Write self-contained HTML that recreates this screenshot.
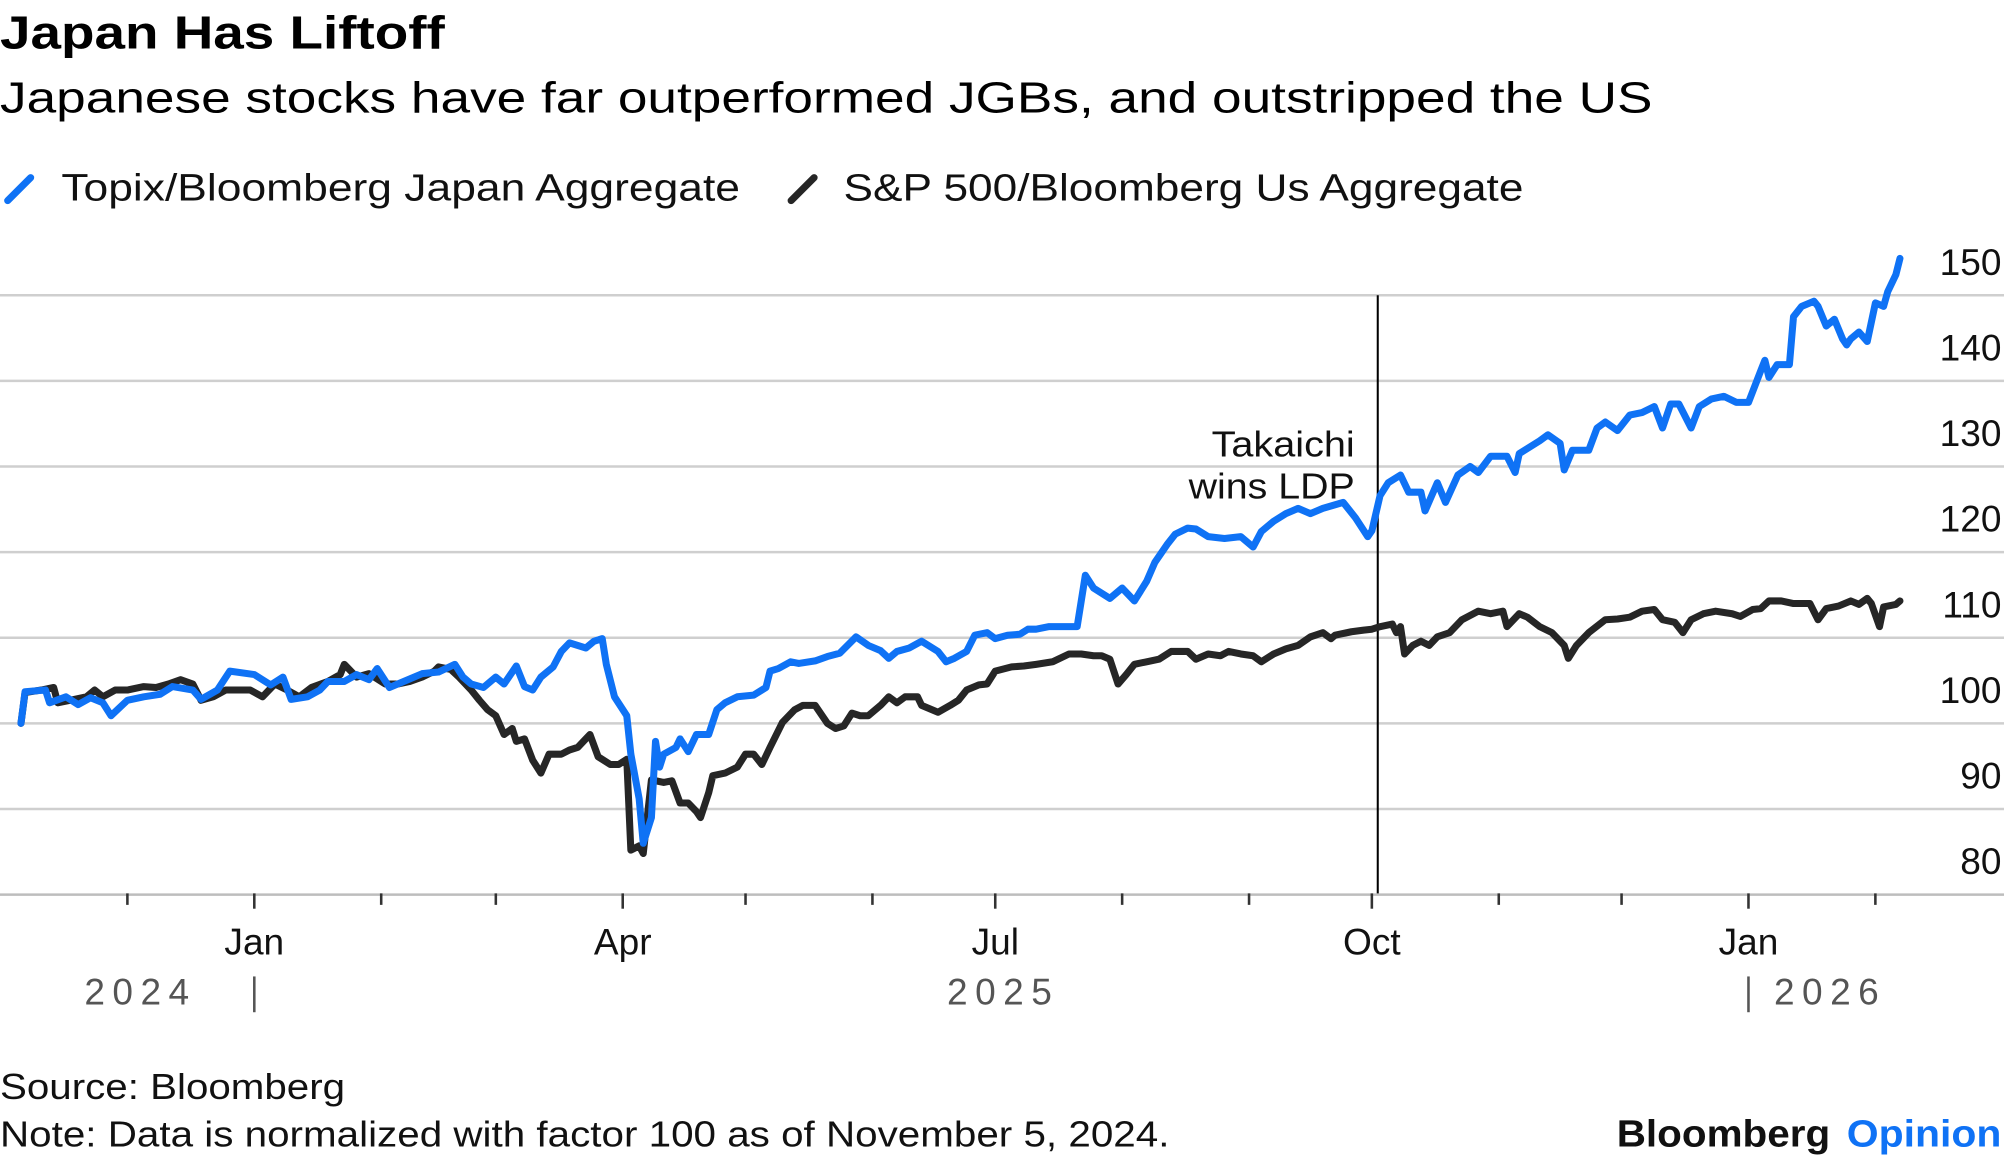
<!DOCTYPE html>
<html><head><meta charset="utf-8"><style>
html,body{margin:0;padding:0;background:#fff;}
svg{display:block;font-family:"Liberation Sans",Arial,sans-serif;}
</style></head><body>
<svg id="chart" width="2004" height="1161" viewBox="0 0 1568 908.4" xmlns="http://www.w3.org/2000/svg">
<text x="0" y="38" font-size="36" font-weight="bold" fill="#000" textLength="348" lengthAdjust="spacingAndGlyphs">Japan Has Liftoff</text>
<text x="0" y="88" font-size="34" fill="#000" textLength="1293" lengthAdjust="spacingAndGlyphs">Japanese stocks have far outperformed JGBs, and outstripped the US</text>
<g>
<line x1="6" y1="157" x2="24" y2="139" stroke="#0f72f5" stroke-width="5.5" stroke-linecap="round"/>
<text x="48" y="157" font-size="30" fill="#111" textLength="531" lengthAdjust="spacingAndGlyphs">Topix/Bloomberg Japan Aggregate</text>
<line x1="619" y1="157" x2="637" y2="139" stroke="#262626" stroke-width="5.5" stroke-linecap="round"/>
<text x="660" y="157" font-size="30" fill="#111" textLength="532" lengthAdjust="spacingAndGlyphs">S&amp;P 500/Bloomberg Us Aggregate</text>
</g>
<g id="grid"></g>
<g id="xaxis"></g>
<line x1="1078" y1="231" x2="1078" y2="699" stroke="#000" stroke-width="1.6"/>
<text x="1060" y="357" font-size="28" text-anchor="end" fill="#111" textLength="112" lengthAdjust="spacingAndGlyphs">Takaichi</text>
<text x="1060" y="390" font-size="28" text-anchor="end" fill="#111" textLength="130" lengthAdjust="spacingAndGlyphs">wins LDP</text>
<g id="series"></g>
<text x="0" y="860" font-size="28" fill="#111" textLength="270" lengthAdjust="spacingAndGlyphs">Source: Bloomberg</text>
<text x="0" y="897" font-size="28" fill="#111" textLength="915" lengthAdjust="spacingAndGlyphs">Note: Data is normalized with factor 100 as of November 5, 2024.</text>
<text x="1265" y="897" font-size="30" font-weight="bold" fill="#111" textLength="167" lengthAdjust="spacingAndGlyphs">Bloomberg</text>
<text x="1445" y="897" font-size="30" font-weight="bold" fill="#0f72f5" textLength="121" lengthAdjust="spacingAndGlyphs">Opinion</text>
</svg>
<script>
// y ticks
const yTicks = [80, 90, 100, 110, 120, 130, 140, 150];
// x month ticks: days since 2024-11-05
const monthTickDays = [26, 57, 88, 116, 147, 177, 208, 238, 269, 300, 330, 361, 391, 422, 453];
const monthTickLabels = ["", "Jan", "", "", "Apr", "", "", "Jul", "", "", "Oct", "", "", "Jan", ""];
const yearLabels = ["2024", "2025", "2026"];

const topixDays = [0,1,6,7,11,14,17,20,22,26,30,34,37,42,44,48,51,57,61,64,66,70,73,75,79,82,85,87,90,95,98,102,106,108,110,113,116,118,121,123,125,127,130,132,134,138,140,142,143,145,148,149,151,152,154,155,156,157,160,161,163,165,168,170,172,175,179,182,183,185,188,190,194,197,200,204,207,210,212,214,217,220,224,226,228,231,233,236,238,241,244,246,248,251,253,258,260,262,266,269,272,275,277,280,282,285,287,290,294,298,301,303,306,309,312,315,318,323,326,329,330,332,334,337,339,342,343,346,348,351,354,356,359,363,365,366,371,373,376,377,379,383,385,387,390,393,396,399,401,403,405,408,410,413,416,419,422,425,426,427,429,432,433,435,438,439,441,443,445,446,447,449,451,453,455,456,458,459];
const topixValues = [100,103.7,103.9,102.4,103.1,102.2,103.0,102.4,100.9,102.7,103.1,103.4,104.3,103.9,102.8,103.9,106.1,105.7,104.5,105.4,102.8,103.1,103.9,104.9,104.9,105.7,105.1,106.4,104.2,105.2,105.8,106.0,106.9,105.4,104.6,104.2,105.4,104.6,106.7,104.3,103.9,105.4,106.6,108.4,109.4,108.8,109.6,109.9,106.9,103.1,100.9,96.4,91.2,86.0,89.0,97.9,94.9,96.4,97.2,98.2,96.7,98.7,98.7,101.6,102.4,103.1,103.3,104.2,106.1,106.4,107.2,107.0,107.3,107.8,108.2,110.1,109.1,108.5,107.6,108.4,108.8,109.6,108.4,107.2,107.6,108.4,110.3,110.6,109.9,110.3,110.4,111.0,111.0,111.3,111.3,111.3,117.3,115.8,114.6,115.8,114.3,116.6,118.8,120.9,122.1,122.8,122.7,121.8,121.6,121.8,120.6,122.4,123.6,124.5,125.1,124.5,125.1,125.8,124.0,121.8,122.5,126.6,128.1,129.0,127.0,127.0,124.8,128.1,125.8,129.0,130.0,129.3,131.2,131.2,129.3,131.5,133.0,133.7,132.7,129.6,131.9,131.9,134.5,135.2,134.2,136.0,136.3,137.0,134.5,137.3,137.3,134.5,137.0,137.9,138.2,137.5,137.5,141.2,142.4,140.4,141.9,141.9,147.5,148.7,149.3,148.7,146.4,147.2,144.9,144.2,144.9,145.7,144.6,149.1,148.7,150.4,152.4,154.3];

const spxDays = [0,1,5,8,9,12,16,18,20,23,26,30,33,36,39,42,44,47,50,53,56,59,62,65,68,71,75,78,79,82,85,89,92,95,98,101,102,105,107,110,112,114,116,118,120,121,123,125,127,129,132,134,136,138,139,141,144,146,148,149,151,152,154,157,159,161,163,165,166,168,169,172,175,177,179,181,183,186,189,191,194,197,199,201,203,205,207,210,212,214,216,219,220,224,227,229,231,234,236,238,242,245,248,252,256,259,262,264,266,268,270,272,275,278,281,285,287,290,293,295,298,301,303,306,309,312,315,318,320,321,325,328,330,332,335,336,337,338,340,342,344,346,349,352,356,359,362,363,366,368,371,374,377,378,380,383,387,390,393,396,399,401,404,406,408,411,414,418,420,423,425,427,430,433,437,439,441,444,447,449,451,452,454,455,458,459];
const spxValues = [100,103.6,103.9,104.2,102.4,102.7,103.1,103.9,103.1,103.9,103.9,104.3,104.2,104.6,105.1,104.6,102.7,103.1,103.9,103.9,103.9,103.1,104.6,103.9,103.1,104.2,104.9,105.7,106.9,105.4,105.8,104.6,104.6,104.9,105.4,106.1,106.6,106.3,105.4,103.9,102.7,101.6,100.9,98.7,99.4,97.9,98.2,95.7,94.2,96.4,96.4,96.9,97.2,98.2,98.7,96.1,95.2,95.2,95.8,85.2,85.7,84.8,93.4,93.1,93.3,90.7,90.7,89.7,89.0,91.9,93.9,94.2,94.9,96.4,96.4,95.2,97.2,100.1,101.6,102.1,102.1,100.0,99.4,99.7,101.2,100.9,100.9,102.1,103.1,102.4,103.1,103.1,102.1,101.3,102.1,102.7,103.9,104.5,104.6,106.1,106.6,106.7,106.9,107.2,108.1,108.1,107.9,107.9,107.5,104.6,105.7,106.9,107.2,107.5,108.4,108.4,107.5,108.1,107.9,108.4,108.1,107.9,107.2,108.1,108.7,109.1,110.1,110.6,109.9,110.3,110.7,110.9,111.0,111.3,111.6,110.6,111.3,108.1,109.1,109.6,109.1,110.1,110.6,112.1,113.1,112.8,113.1,111.3,112.8,112.4,111.3,110.6,109.1,107.6,109.1,110.6,112.1,112.2,112.4,113.1,113.3,112.1,111.8,110.6,112.1,112.8,113.1,112.8,112.5,113.3,113.4,114.3,114.3,114.0,114.0,112.1,113.4,113.7,114.3,113.9,114.6,114.0,111.3,113.6,113.9,114.3];

const NS = "http://www.w3.org/2000/svg";
const x0 = 16.4, pxPerDay = 3.203;
function xScale(d){ return x0 + d * pxPerDay; }
function yScale(v){ return 566 - (v - 100) * 6.7; }
function mk(tag, attrs, parent){ const e = document.createElementNS(NS, tag); for (const k in attrs) e.setAttribute(k, attrs[k]); parent.appendChild(e); return e; }

const grid = document.getElementById('grid');
yTicks.forEach(function(v){
  const y = yScale(v);
  const ln = mk('line', {x1:0, x2:1568, y1:y, y2:y, stroke: v===80 ? '#bdbdbd' : '#cfcfcf', 'stroke-width':2}, grid);
  
  
  const t = mk('text', {x:1566, y:y - 16, 'font-size':29, 'text-anchor':'end', fill:'#111'}, grid);
  t.textContent = String(v);
  
  
});

const xa = document.getElementById('xaxis');
monthTickDays.forEach(function(d, i){
  const x = xScale(d);
  const major = monthTickLabels[i] !== "";
  const tk = mk('line', {x1:x, x2:x, y1:699, y2: major ? 711 : 708, stroke:'#333', 'stroke-width':2}, xa);
  
  
  if (major) {
    const t = mk('text', {x:x, y:747, 'font-size':29, 'text-anchor':'middle', fill:'#111'}, xa);
    t.textContent = monthTickLabels[i];
    
    
  }
});
[ [66, yearLabels[0]], [741, yearLabels[1]], [1388, yearLabels[2]] ].forEach(function(p){
  const t = mk('text', {x:p[0], y:786, 'font-size':29, fill:'#555', textLength:82, lengthAdjust:'spacing'}, xa);
  t.textContent = p[1];
  
  
});
[monthTickDays[1], monthTickDays[13]].forEach(function(d){
  const x = xScale(d);
  const l = mk('line', {x1:x, x2:x, y1:764, y2:792, stroke:'#555', 'stroke-width':2}, xa);
  
  
});

const series = document.getElementById('series');
function drawLine(days, vals, color, name){
  const n = Math.min(days.length, vals.length);
  let dstr = '';
  for (let i = 0; i < n; i++) dstr += (i ? 'L' : 'M') + xScale(days[i]).toFixed(1) + ',' + yScale(vals[i]).toFixed(1);
  const p = mk('path', {d:dstr, fill:'none', stroke:color, 'stroke-width':5.5, 'stroke-linejoin':'round', 'stroke-linecap':'round'}, series);
  
  
}
drawLine(spxDays, spxValues, '#262626', 'spx-line');
drawLine(topixDays, topixValues, '#0f72f5', 'topix-line');
</script>
</body></html>
